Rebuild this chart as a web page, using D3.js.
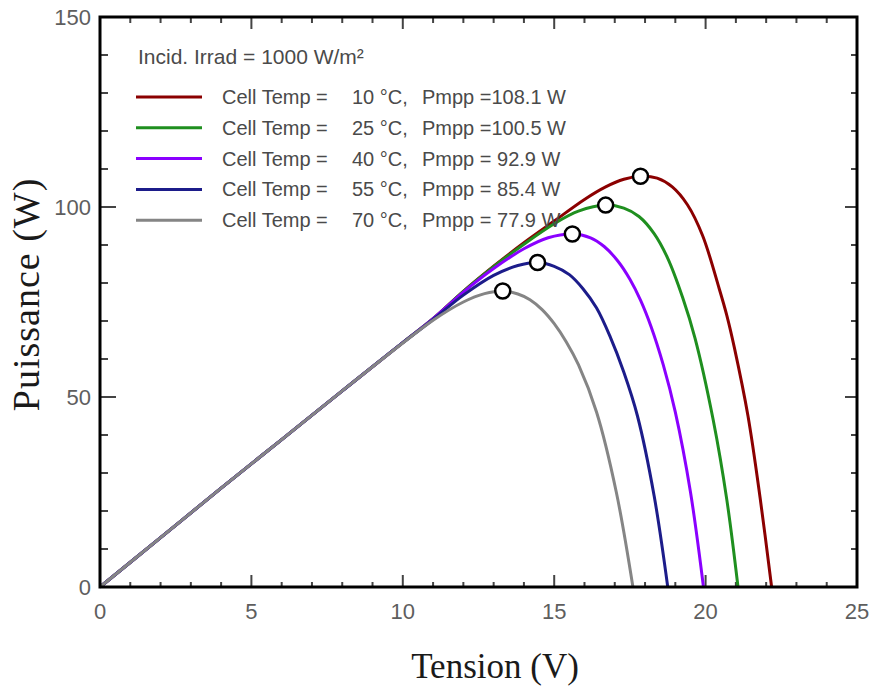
<!DOCTYPE html>
<html>
<head>
<meta charset="utf-8">
<script src="https://cdn.jsdelivr.net/npm/d3@7"></script>
<style>
  body { margin: 0; background: #fff; }
  text { font-family: "Liberation Sans", Arial, sans-serif; }
</style>
</head>
<body>
<div id="pv_chart"></div>
<script>
// cell temperatures and maximum power points
const temps = [10, 25, 40, 55, 70]
const pmpp = [108.1, 100.5, 92.9, 85.4, 77.9]
const vmpp = [17.85, 16.7, 15.6, 14.45, 13.3]

// P-V curves (V, W)
const volts_10 = [0, 2, 4, 6, 8, 10, 11, 12, 13, 14, 15, 16, 16.7, 17.3, 17.85, 18.4, 18.9, 19.4, 19.9, 20.45, 20.7, 20.95, 21.4, 21.8, 22.18]
const power_10 = [0, 13, 26, 38.8, 51.6, 64.3, 70.6, 77.8, 84.4, 90.6, 96.3, 102, 105.3, 107.3, 108.1, 107.6, 105.3, 100.6, 92.5, 78.5, 71.5, 63, 45, 23.5, 0]
const volts_25 = [0, 2, 4, 6, 8, 10, 11, 12, 13, 14, 15, 15.8, 16.7, 17.3, 17.8, 18.3, 18.75, 19.25, 19.65, 20.25, 20.7, 21.07]
const power_25 = [0, 13, 26, 38.8, 51.6, 64.3, 70.6, 77.8, 84.3, 90.2, 95.6, 98.9, 100.5, 99.7, 97.5, 93, 86.5, 76, 65.5, 44, 23, 0]
const volts_40 = [0, 2, 4, 6, 8, 10, 11, 12, 13, 14, 14.8, 15.6, 16.2, 16.65, 17.1, 17.5, 17.85, 18.2, 18.6, 19.0, 19.5, 19.93]
const power_40 = [0, 13, 26, 38.8, 51.6, 64.3, 70.6, 77.6, 83.8, 89, 91.9, 92.9, 91.9, 89.6, 85.8, 81, 75.5, 68.5, 58.5, 46, 25, 0]
const volts_55 = [0, 2, 4, 6, 8, 10, 11, 12, 13, 13.8, 14.45, 15, 15.5, 15.95, 16.4, 16.84, 17.3, 17.75, 18.3, 18.75]
const power_55 = [0, 13, 26, 38.8, 51.6, 64.3, 70.4, 76.8, 82, 84.6, 85.4, 84.4, 82.2, 78.5, 73.4, 66, 56.5, 45, 24, 0]
const volts_70 = [0, 2, 4, 6, 8, 10, 11, 12, 12.7, 13.3, 13.8, 14.2, 14.6, 15.0, 15.4, 15.8, 16.4, 17.05, 17.6]
const power_70 = [0, 13, 26, 38.8, 51.6, 64.2, 70.2, 75, 77.2, 77.9, 77.1, 75.6, 73, 69.3, 64.5, 58.5, 46, 25, 0]

const xTicks = [0, 5, 10, 15, 20, 25]
const yTicks = [0, 50, 100, 150]

const curveColors = ["#8b0000", "#1f8f1f", "#8a00ff", "#1c1c8a", "#858585"]

const curves = [
  [volts_10, power_10], [volts_25, power_25], [volts_40, power_40],
  [volts_55, power_55], [volts_70, power_70]
]

// set the dimensions and margins of the graph
const margin = {top: 17, right: 14, bottom: 99, left: 100},
    width = 871 - margin.left - margin.right,
    height = 686 - margin.top - margin.bottom;

const svg = d3.select("#pv_chart")
  .append("svg")
    .attr("width", 871)
    .attr("height", 686)
  .append("g")
    .attr("transform", `translate(${margin.left},${margin.top})`);

const x = d3.scaleLinear().domain([0, 25]).range([0, width])
const y = d3.scaleLinear().domain([0, 150]).range([height, 0])

// minor / major ticks, all pointing inside the frame
const tickCol = "#444"
d3.range(0, 26, 1).forEach(v => {
  const major = v % 5 === 0
  if (v === 0 || v === 25) return
  svg.append("line").attr("x1", x(v)).attr("x2", x(v))
    .attr("y1", height).attr("y2", height - (major ? 12 : 5))
    .attr("stroke", tickCol).attr("stroke-width", 2)
  svg.append("line").attr("x1", x(v)).attr("x2", x(v))
    .attr("y1", 0).attr("y2", major ? 12 : 6)
    .attr("stroke", tickCol).attr("stroke-width", 2)
})
d3.range(0, 151, 10).forEach(p => {
  const major = p % 50 === 0
  if (p === 0 || p === 150) return
  svg.append("line").attr("x1", 0).attr("x2", major ? 16 : 8)
    .attr("y1", y(p)).attr("y2", y(p))
    .attr("stroke", tickCol).attr("stroke-width", 2)
  svg.append("line").attr("x1", width).attr("x2", width - (major ? 12 : 6))
    .attr("y1", y(p)).attr("y2", y(p))
    .attr("stroke", tickCol).attr("stroke-width", 2)
})

// tick labels
svg.append("g").selectAll("text")
  .data(xTicks)
  .join("text")
    .attr("x", d => x(d))
    .attr("y", height + 32)
    .attr("text-anchor", "middle")
    .style("font-size", "22px")
    .style("fill", "#5e5e5e")
    .text(d => d);

svg.append("g").selectAll("text")
  .data(yTicks)
  .join("text")
    .attr("x", -9)
    .attr("y", d => y(d))
    .attr("dy", "0.36em")
    .attr("text-anchor", "end")
    .style("font-size", "22px")
    .style("fill", "#5e5e5e")
    .text(d => d);

// the curves
const line = d3.line()
  .x(d => x(d[0]))
  .y(d => y(d[1]))
  .curve(d3.curveCatmullRom.alpha(0.5))

curves.forEach((c, i) => {
  const pts = c[0].map((v, k) => [v, c[1][k]])
  svg.append("path")
    .datum(pts)
    .attr("fill", "none")
    .attr("stroke", curveColors[i])
    .attr("stroke-width", 3)
    .attr("d", line)
})

// maximum power points
svg.append("g").selectAll("circle")
  .data(temps)
  .join("circle")
    .attr("cx", (d, i) => x(vmpp[i]))
    .attr("cy", (d, i) => y(pmpp[i]))
    .attr("r", 7.5)
    .attr("fill", "#fff")
    .attr("stroke", "#000")
    .attr("stroke-width", 2.5);

// frame
svg.append("rect")
  .attr("x", 0).attr("y", 0)
  .attr("width", width).attr("height", height)
  .attr("fill", "none")
  .attr("stroke", "#000")
  .attr("stroke-width", 3);

// legend
const legend = svg.append("g")
const legendFont = "20px"
legend.append("text")
  .attr("x", 38).attr("y", 40)
  .attr("dy", "0.35em")
  .style("font-size", "21px")
  .style("fill", "#4a4a4a")
  .text("Incid. Irrad = 1000 W/m²");

const rowY = (i) => 80 + i * 30.8
temps.forEach((t, i) => {
  legend.append("line")
    .attr("x1", 36).attr("x2", 102)
    .attr("y1", rowY(i)).attr("y2", rowY(i))
    .attr("stroke", curveColors[i])
    .attr("stroke-width", 3)
  legend.append("text")
    .attr("x", 122).attr("y", rowY(i)).attr("dy", "0.35em")
    .style("font-size", legendFont).style("fill", "#4a4a4a")
    .text("Cell Temp =")
  legend.append("text")
    .attr("x", 252).attr("y", rowY(i)).attr("dy", "0.35em")
    .style("font-size", legendFont).style("fill", "#4a4a4a")
    .text(t + " °C,")
  legend.append("text")
    .attr("x", 322).attr("y", rowY(i)).attr("dy", "0.35em")
    .style("font-size", legendFont).style("fill", "#4a4a4a")
    .text("Pmpp =" + (pmpp[i] >= 100 ? "" : " ") + pmpp[i].toFixed(1) + " W")
})

// axis titles
svg.append("text")
  .attr("x", 395)
  .attr("y", height + 91)
  .attr("text-anchor", "middle")
  .style("font-family", "Liberation Serif, Times New Roman, serif")
  .style("font-size", "35px")
  .style("fill", "#1a1a1a")
  .text("Tension (V)");

svg.append("text")
  .attr("transform", `translate(-61, ${y(77)}) rotate(-90)`)
  .attr("text-anchor", "middle")
  .style("font-family", "Liberation Serif, Times New Roman, serif")
  .style("font-size", "38px")
  .style("letter-spacing", "1px")
  .style("fill", "#1a1a1a")
  .text("Puissance (W)");
</script>
</body>
</html>
